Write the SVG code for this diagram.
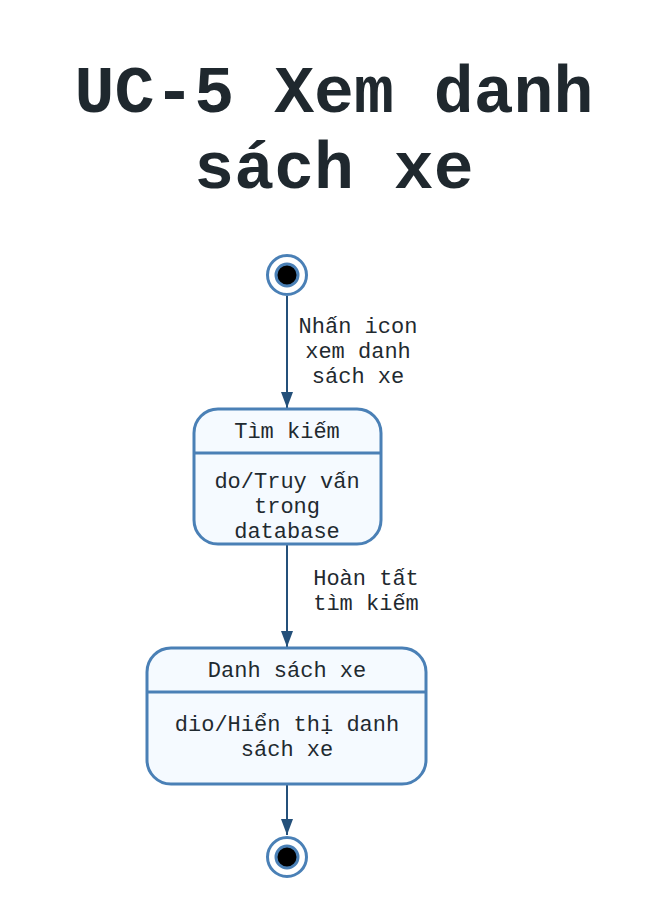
<svg xmlns="http://www.w3.org/2000/svg" width="668" height="918" viewBox="0 0 668 918">
<style>
.title{font-family:"Liberation Mono",monospace;font-weight:bold;font-size:66.5px;fill:#1f282e;text-anchor:middle}
.t{font-family:"Liberation Mono",monospace;font-size:22px;fill:#1f2a30;text-anchor:middle}
.state{fill:#f5faff;stroke:#4a80b6;stroke-width:3}
.edge{stroke:#24507a;stroke-width:2;fill:none;marker-end:url(#arr)}
</style>
<defs>
<marker id="arr" viewBox="0 0 16 12" refX="16" refY="6" markerWidth="16" markerHeight="12" markerUnits="userSpaceOnUse" orient="auto">
<path d="M0,0 L16,6 L0,12 Z" fill="#24507a"/>
</marker>
</defs>
<rect width="668" height="918" fill="#ffffff"/>
<text class="title" x="334" y="112">UC-5 Xem danh</text>
<text class="title" x="334" y="188">sách xe</text>
<g id="connectors">
<path class="edge" d="M287,296 L287,408"/>
<text class="t" x="358" y="333">Nhấn icon</text>
<text class="t" x="358" y="358">xem danh</text>
<text class="t" x="358" y="383">sách xe</text>
<path class="edge" d="M287,544 L287,647"/>
<text class="t" x="366" y="585">Hoàn tất</text>
<text class="t" x="366" y="610">tìm kiếm</text>
<path class="edge" d="M287,784 L287,835"/>
</g>
<g id="start">
<circle cx="287" cy="275" r="19.5" fill="#ffffff" stroke="#4a80b6" stroke-width="3"/>
<circle cx="287" cy="275" r="11" fill="#000000" stroke="#4a80b6" stroke-width="3"/>
</g>
<g id="timkiem">
<rect class="state" x="194" y="409" width="187" height="135" rx="24"/>
<line x1="194" y1="453" x2="381" y2="453" stroke="#4a80b6" stroke-width="3"/>
<text class="t" x="287" y="438">Tìm kiếm</text>
<text class="t" x="287" y="488">do/Truy vấn</text>
<text class="t" x="287" y="513">trong</text>
<text class="t" x="287" y="538">database</text>
</g>
<g id="danhsach">
<rect class="state" x="147" y="648" width="279" height="136" rx="24"/>
<line x1="147" y1="692" x2="426" y2="692" stroke="#4a80b6" stroke-width="3"/>
<text class="t" x="287" y="677">Danh sách xe</text>
<text class="t" x="287" y="731">dio/Hiển thị danh</text>
<text class="t" x="287" y="756">sách xe</text>
</g>
<g id="end">
<circle cx="287" cy="857" r="19.5" fill="#ffffff" stroke="#4a80b6" stroke-width="3"/>
<circle cx="287" cy="857" r="11" fill="#000000" stroke="#4a80b6" stroke-width="3"/>
</g>
</svg>
